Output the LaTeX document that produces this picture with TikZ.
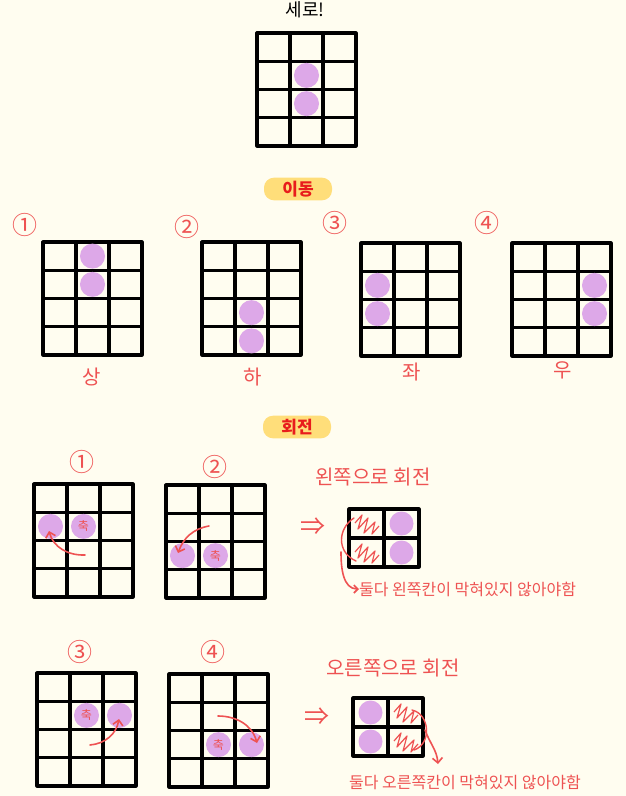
\documentclass[tikz,border=0pt]{standalone}
\usepackage{fontspec}
\setmainfont{Noto Sans CJK KR}
\usetikzlibrary{arrows.meta}

\definecolor{bgcream}{RGB}{255,253,240}
\definecolor{piecepurple}{RGB}{221,168,232}
\definecolor{penred}{RGB}{238,82,82}
\definecolor{markyellow}{RGB}{255,222,122}
\definecolor{markred}{RGB}{232,28,28}

% 3x4 board, top-left corner at (#1,#2)
\newcommand{\board}[2]{%
  \draw[boardline] (#1,#2) rectangle ({#1+99},{#2+113});
  \foreach \i in {1,2} \draw[boardline] ({#1+33*\i},#2) -- ({#1+33*\i},{#2+113});
  \foreach \j in {1,2,3} \draw[boardline] (#1,{#2+28.25*\j}) -- ({#1+99},{#2+28.25*\j});
}
% 2x2 board, top-left corner at (#1,#2)
\newcommand{\smallboard}[2]{%
  \draw[boardline] (#1,#2) rectangle ({#1+70},{#2+58});
  \draw[boardline] ({#1+35},#2) -- ({#1+35},{#2+58});
  \draw[boardline] (#1,{#2+29}) -- ({#1+70},{#2+29});
}
% blocked cell scribble, cell top-left at (#1,#2)
\newcommand{\scribble}[2]{%
  \draw[scrib] ({#1+6},{#2+14}) -- ({#1+13},{#2+6}) -- ({#1+9},{#2+20})
    -- ({#1+19},{#2+9}) -- ({#1+15},{#2+24}) -- ({#1+26},{#2+13})
    -- ({#1+23},{#2+25}) -- ({#1+30},{#2+17});
}

\begin{document}
\begin{tikzpicture}[
  x=1pt, y=-1pt,
  boardline/.style={draw=black,line width=3.2pt,line join=round},
  piece/.style={circle,fill=piecepurple,inner sep=0pt,minimum size=25pt},
  axispiece/.style={piece,text=penred,font=\fontsize{12}{12}\selectfont},
  titletext/.style={font=\fontsize{18}{20}\selectfont,text=black},
  hilite/.style={fill=markyellow,rounded corners=10pt,minimum width=68pt,
    minimum height=22pt,text=markred,font=\fontsize{17}{18}\selectfont\bfseries},
  num/.style={text=penred,font=\fontsize{25}{26}\selectfont,inner sep=0pt},
  lbl/.style={text=penred,font=\fontsize{20}{22}\selectfont,inner sep=0pt},
  memo/.style={text=penred,font=\fontsize{16}{18}\selectfont,inner sep=0pt},
  scrib/.style={draw=penred,line width=1.2pt,line join=round},
  rotarrow/.style={draw=penred,line width=1.6pt,line cap=round,
    -{Straight Barb[length=5pt,width=10pt]}},
  bracket/.style={draw=penred,line width=1.4pt,line cap=round}
]
\useasboundingbox (0,0) rectangle (626,796);
\fill[bgcream] (0,0) rectangle (626,796);

% ---- vertical piece ----
\node[titletext] (tvert) at (305,10) {세로!};
\board{257}{33}
\node[piece] (t1) at (306.5,75.4) {};
\node[piece] (t2) at (306.5,103.6) {};

% ---- moves ----
\node[hilite] (hmove) at (298,189) {이동};

\node[num] (m1) at (25,225) {①};
\board{43}{242}
\node[piece] (up1) at (92.5,256.1) {};
\node[piece] (up2) at (92.5,284.4) {};
\node[lbl] (lup) at (92,377) {상};

\node[num] (m2) at (187,227) {②};
\board{202}{242}
\node[piece] (dn1) at (251.5,312.6) {};
\node[piece] (dn2) at (251.5,340.9) {};
\node[lbl] (ldn) at (253,377) {하};

\node[num] (m3) at (335,223) {③};
\board{361}{243}
\node[piece] (lf1) at (377.5,285.4) {};
\node[piece] (lf2) at (377.5,313.6) {};
\node[lbl] (llf) at (412,372) {좌};

\node[num] (m4) at (487,223) {④};
\board{512}{243}
\node[piece] (rt1) at (594.5,285.4) {};
\node[piece] (rt2) at (594.5,313.6) {};
\node[lbl] (lrt) at (563,370) {우};

% ---- rotations ----
\node[hilite] (hturn) at (297,427) {회전};

\node[num] (r1) at (82,462) {①};
\board{34}{484}
\node[piece] (ra1) at (50.5,526.4) {};
\node[axispiece] (rx1) at (83.5,526.4) {축};
\coordinate (s1) at (85,555);
\coordinate (e1) at (49,531);
\draw[rotarrow] (s1) to[out=182,in=-75] (e1);

\node[num] (r2) at (215,467) {②};
\board{166}{485}
\node[piece] (ra2) at (182.5,555.6) {};
\node[axispiece] (rx2) at (215.5,555.6) {축};
\coordinate (s2) at (209,526);
\coordinate (e2) at (178,553);
\draw[rotarrow] (s2) to[out=190,in=70] (e2);

\node[num] (r3) at (80,652) {③};
\board{37}{673}
\node[axispiece] (rx3) at (86.5,715.4) {축};
\node[piece] (ra3) at (119.5,715.4) {};
\coordinate (s3) at (90,745);
\coordinate (e3) at (119,719);
\draw[rotarrow] (s3) to[out=5,in=-100] (e3);

\node[num] (r4) at (213,652) {④};
\board{169}{674}
\node[axispiece] (rx4) at (218.5,744.6) {축};
\node[piece] (ra4) at (251.5,744.6) {};
\coordinate (s4) at (218,716);
\coordinate (e4) at (257,743);
\draw[rotarrow] (s4) to[out=0,in=105] (e4);

% ---- turn left ----
\node[lbl] (tleft) at (373,477) {왼쪽으로 회전};
\node[num] (imp1) at (313,527) {⇒};
\smallboard{349}{509}
\scribble{349}{509}
\scribble{349}{538}
\node[piece,minimum size=24pt] (sl1) at (401.5,523.5) {};
\node[piece,minimum size=24pt] (sl2) at (401.5,552.5) {};
\node[memo,anchor=west] (nleft) at (359,589) {둘다 왼쪽칸이 막혀있지 않아야함};
\coordinate (bl1) at (354,518);
\coordinate (bl2) at (356,561);
\coordinate (bl3) at (341,552);
\draw[bracket] (bl1) .. controls (338,528) and (336,552) .. (bl2);
\draw[rotarrow,-{Straight Barb[length=4pt,width=8pt]}] (bl3) to[out=-90,in=180] (nleft.west);

% ---- turn right ----
\node[lbl] (tright) at (393,668) {오른쪽으로 회전};
\node[num] (imp2) at (317,717) {⇒};
\smallboard{353}{698}
\scribble{388}{698}
\scribble{388}{727}
\node[piece,minimum size=24pt] (sr1) at (370.5,712.5) {};
\node[piece,minimum size=24pt] (sr2) at (370.5,741.5) {};
\node[memo,anchor=west] (nright) at (349,782) {둘다 오른쪽칸이 막혀있지 않아야함};
\coordinate (br1) at (412,710);
\coordinate (br2) at (414,750);
\coordinate (br3) at (425,730);
\coordinate (br4) at (438,764);
\draw[bracket] (br1) .. controls (430,714) and (432,744) .. (br2);
\draw[rotarrow] (br3) to[out=-70,in=95] (br4);

\end{tikzpicture}
\end{document}
